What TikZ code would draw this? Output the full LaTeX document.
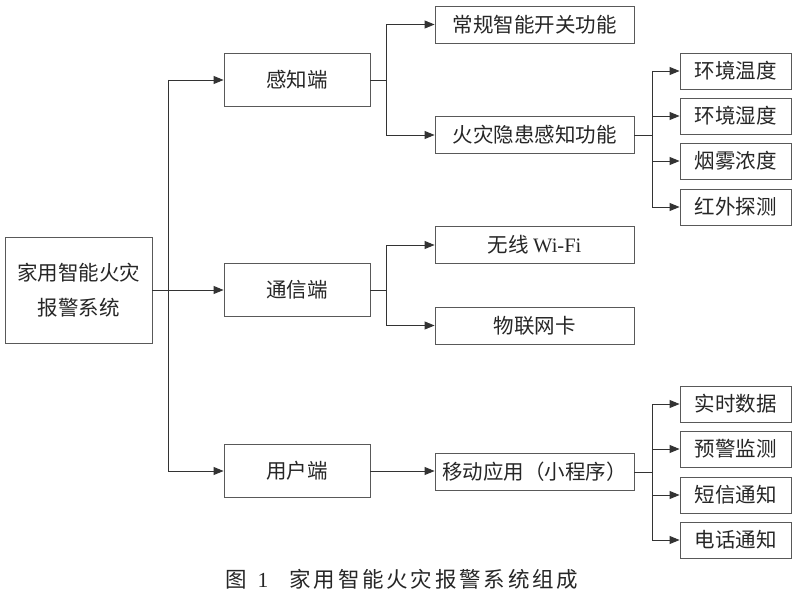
\documentclass[tikz,border=0pt]{standalone}
\usepackage{fontspec}
\setmainfont{Liberation Serif}
\newfontfamily\cjk{Noto Sans CJK SC}
\newfontfamily\cjkcap[LetterSpace=13]{Noto Sans CJK SC}
\usetikzlibrary{arrows.meta}
\begin{document}
\begin{tikzpicture}[x=1pt,y=-1pt,
  box/.style={draw=black!65,line width=0.9pt,fill=white,inner sep=0pt,align=center,
     font=\cjk\fontsize{20.5}{35}\selectfont,text=black!85},
  rootbox/.style={box,minimum width=147pt,minimum height=106pt},
  lonebox/.style={box,minimum width=146pt,minimum height=53pt},
  ltwobox/.style={box,minimum width=199pt,minimum height=37pt},
  leafbox/.style={box,minimum width=111pt,minimum height=36pt},
  conn/.style={draw=black!80,line width=0.9pt},
  arr/.style={conn,-{Triangle[length=10pt,width=8pt]}}]
\useasboundingbox (0,0) rectangle (800,604);
% level 0
\node[rootbox] (root) at (78.5,290) {家用智能火灾\\报警系统};
% level 1
\node[lonebox] (gz) at (297,80) {感知端};
\node[lonebox] (tx) at (297,290) {通信端};
\node[lonebox] (yh) at (297,471) {用户端};
% level 2
\node[ltwobox] (cg) at (534.5,24.5) {常规智能开关功能};
\node[ltwobox] (hz) at (534.5,135) {火灾隐患感知功能};
\node[ltwobox] (wx) at (534.5,245) {无线 {\rmfamily Wi-Fi}};
\node[ltwobox] (wl) at (534.5,325.5) {物联网卡};
\node[ltwobox] (yd) at (534.5,472) {移动应用（小程序）};
% leaves
\node[leafbox] (a1) at (735.5,71) {环境温度};
\node[leafbox] (a2) at (735.5,116) {环境湿度};
\node[leafbox] (a3) at (735.5,161) {烟雾浓度};
\node[leafbox] (a4) at (735.5,207) {红外探测};
\node[leafbox] (b1) at (735.5,404) {实时数据};
\node[leafbox] (b2) at (735.5,449) {预警监测};
\node[leafbox] (b3) at (735.5,495) {短信通知};
\node[leafbox] (b4) at (735.5,540) {电话通知};
% junction coordinates
\coordinate (j0) at (168,0);
\coordinate (j1) at (386,0);
\coordinate (j2) at (652,0);
% root -> level 1
\draw[arr] (root.east) -- (tx.west);
\draw[conn] (j0|-gz) -- (j0|-yh);
\draw[arr] (j0|-gz) -- (gz.west);
\draw[arr] (j0|-yh) -- (yh.west);
% 感知端
\draw[conn] (gz.east) -- (j1|-gz);
\draw[conn] (j1|-cg) -- (j1|-hz);
\draw[arr] (j1|-cg) -- (cg.west);
\draw[arr] (j1|-hz) -- (hz.west);
% 通信端
\draw[conn] (tx.east) -- (j1|-tx);
\draw[conn] (j1|-wx) -- (j1|-wl);
\draw[arr] (j1|-wx) -- (wx.west);
\draw[arr] (j1|-wl) -- (wl.west);
% 用户端
\draw[arr] (yh.east) -- (yh.east-|yd.west);
% 火灾隐患感知功能 leaves
\draw[conn] (hz.east) -- (j2|-hz);
\draw[conn] (j2|-a1) -- (j2|-a4);
\foreach \n in {a1,a2,a3,a4} \draw[arr] (j2|-\n) -- (\n.west);
% 移动应用 leaves
\draw[conn] (yd.east) -- (j2|-yd);
\draw[conn] (j2|-b1) -- (j2|-b4);
\foreach \n in {b1,b2,b3,b4} \draw[arr] (j2|-\n) -- (\n.west);
% caption
\node[font=\cjk\fontsize{21.5}{25}\selectfont,text=black!85,inner sep=0pt,anchor=west] (cap) at (225,579)
  {图\hspace{11pt}{\rmfamily 1}\hspace{21pt}{\cjkcap 家用智能火灾报警系统组成}};
\end{tikzpicture}
\end{document}
